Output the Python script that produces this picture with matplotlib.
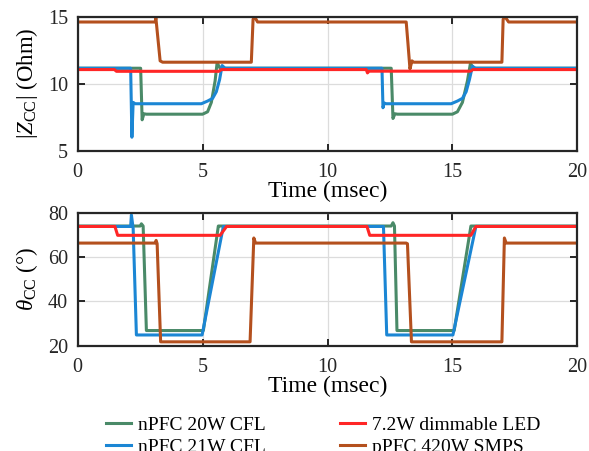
import matplotlib.pyplot as plt
from matplotlib.lines import Line2D

plt.rcParams['font.family'] = ['Liberation Serif', 'DejaVu Serif']
plt.rcParams['mathtext.fontset'] = 'custom'
plt.rcParams['mathtext.rm'] = 'Liberation Serif'
plt.rcParams['mathtext.it'] = 'Liberation Serif:italic'

# ---- breakpoints (time in msec) ----
# |Z_CC| (Ohm)
z_cfl20_t = [0, 2.52, 2.58, 2.65, 2.75, 5.0, 5.2, 5.35, 5.5, 5.58, 5.7, 12.55, 12.62, 12.7, 12.8, 15.0, 15.2, 15.4, 15.6, 15.72, 15.85, 20]
z_cfl20_v = [11.15, 11.15, 7.3, 7.75, 7.72, 7.72, 7.9, 8.6, 10.2, 11.55, 11.15, 11.15, 7.4, 7.75, 7.72, 7.72, 7.9, 8.6, 10.2, 11.5, 11.15, 11.15]

z_cfl21_t = [0, 2.12, 2.17, 2.22, 2.3, 4.95, 5.2, 5.4, 5.55, 5.68, 5.78, 5.9, 12.18, 12.22, 12.27, 12.35, 14.95, 15.2, 15.4, 15.55, 15.68, 15.8, 15.92, 20]
z_cfl21_v = [11.15, 11.15, 6.0, 8.6, 8.5, 8.5, 8.7, 8.9, 9.4, 10.3, 11.35, 11.15, 11.15, 8.2, 8.55, 8.5, 8.5, 8.7, 8.9, 9.4, 10.3, 11.3, 11.15, 11.15]

z_led_t = [0, 1.47, 1.55, 5.65, 5.75, 11.55, 11.6, 11.66, 15.72, 15.82, 20]
z_led_v = [11.05, 11.05, 10.92, 10.92, 11.05, 11.05, 10.8, 10.93, 10.93, 11.05, 11.05]

z_smps_t = [0, 3.1, 3.13, 3.3, 3.4, 6.95, 7.02, 7.08, 7.2, 13.15, 13.22, 13.3, 13.38, 13.45, 16.98, 17.03, 17.1, 17.25, 20]
z_smps_v = [14.6, 14.6, 14.9, 11.7, 11.6, 11.6, 14.8, 15.0, 14.6, 14.6, 13.0, 11.1, 11.7, 11.6, 11.6, 14.8, 15.0, 14.6, 14.6]

# theta_CC (deg)
th_cfl20_t = [0, 2.5, 2.55, 2.62, 2.75, 5.03, 5.63, 5.7, 12.55, 12.62, 12.68, 12.78, 15.07, 15.74, 15.8, 20]
th_cfl20_v = [74.0, 74.0, 75.0, 74.0, 26.8, 26.8, 74.0, 74.0, 74.0, 75.5, 74.0, 26.8, 26.8, 74.0, 74.0, 74.0]

th_cfl21_t = [0, 2.12, 2.15, 2.22, 2.35, 4.98, 5.83, 5.9, 12.18, 12.24, 12.37, 15.02, 15.94, 20]
th_cfl21_v = [73.8, 73.8, 79.0, 73.0, 24.8, 24.8, 73.8, 73.8, 73.8, 73.8, 24.8, 24.8, 73.8, 73.8]

th_led_t = [0, 1.49, 1.6, 5.7, 5.96, 11.58, 11.69, 15.74, 15.94, 20]
th_led_v = [73.8, 73.8, 69.8, 69.8, 73.8, 73.8, 69.8, 69.8, 73.8, 73.8]

th_smps_t = [0, 3.1, 3.14, 3.18, 3.32, 6.9, 7.05, 7.12, 7.25, 13.15, 13.2, 13.36, 16.98, 17.08, 17.15, 17.3, 20]
th_smps_v = [66.3, 66.3, 67.5, 66.0, 21.7, 21.7, 68.6, 66.3, 66.3, 66.3, 66.0, 21.7, 21.7, 68.6, 66.3, 66.3, 66.3]

labels = ['nPFC 20W CFL', 'nPFC 21W CFL', '7.2W dimmable LED', 'pPFC 420W SMPS']
colors = ['#4A8A68', '#1B86D4', '#FF2626', '#B4501E']

series_z = [(z_cfl20_t, z_cfl20_v), (z_cfl21_t, z_cfl21_v), (z_led_t, z_led_v), (z_smps_t, z_smps_v)]
series_th = [(th_cfl20_t, th_cfl20_v), (th_cfl21_t, th_cfl21_v), (th_led_t, th_led_v), (th_smps_t, th_smps_v)]

# draw order: CFLs first, then SMPS, LED on top
order = [0, 1, 3, 2]

fig = plt.figure(figsize=(5.89, 4.51), dpi=100)
ax1 = fig.add_axes([0.1319, 0.6660, 0.8483, 0.2971])
ax2 = fig.add_axes([0.1319, 0.2337, 0.8483, 0.2946])


def style_axes(ax):
    ax.set_xlim(0, 20)
    ax.set_xticks([0, 5, 10, 15, 20])
    ax.grid(True, color='#DCDCDC', linewidth=0.9)
    ax.set_axisbelow(True)
    ax.tick_params(direction='in', length=5, width=1.4, top=True, right=True,
                   labelsize=14.5, colors='#262626')
    ax.tick_params(axis='x', pad=9)
    ax.tick_params(axis='y', pad=7)
    for sp in ax.spines.values():
        sp.set_linewidth(1.6)
        sp.set_color('#262626')
    ax.set_xlabel('Time (msec)', fontsize=17, labelpad=-1)


for i in order:
    t, v = series_z[i]
    ax1.plot(t, v, color=colors[i], linewidth=2.2)
    t, v = series_th[i]
    ax2.plot(t, v, color=colors[i], linewidth=2.2)

style_axes(ax1)
ax1.set_ylim(5, 15)
ax1.set_yticks([5, 10, 15])
ax1.set_ylabel(r'$|Z_{\rm CC}|$ (Ohm)', fontsize=16.5, labelpad=6)

style_axes(ax2)
ax2.set_ylim(20, 80)
ax2.set_yticks([20, 40, 60, 80])
ax2.set_ylabel(r'$\theta_{\rm CC}$ (°)', fontsize=16.5, labelpad=6)

handles = [Line2D([0], [0], color=c, linewidth=2.2) for c in colors]
fig.legend(handles, labels, ncol=2, frameon=False, fontsize=14,
           loc='upper left', bbox_to_anchor=(0.163, 0.099), borderpad=0,
           handlelength=1.3, handletextpad=0.36, columnspacing=3.8,
           labelspacing=0.22)

fig.savefig('out.png', dpi=100)
